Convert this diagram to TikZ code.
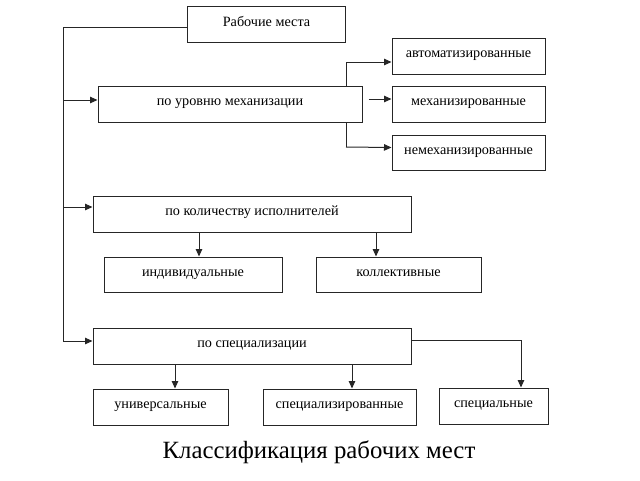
\documentclass[tikz,border=0pt]{standalone}
\usepackage{fontspec}
\setmainfont{Liberation Serif}
\usetikzlibrary{arrows.meta}
\tikzset{
  box/.style={draw=black!85, line width=1pt, rectangle, inner sep=0pt, text height=8pt, text depth=5pt, font=\fontsize{14.2}{16}\selectfont},
  conn/.style={draw=black!85, line width=1pt},
  arr/.style={conn, -{Triangle[length=7.5pt,width=6.5pt]}}
}
\begin{document}
\begin{tikzpicture}[x=1pt,y=-1pt]
\useasboundingbox (0,0) rectangle (640,480);
% vertical branch line behind the mechanisation box
\coordinate (mb1) at (346,62);
\coordinate (mb2) at (346,147);
\node[box, minimum width=158pt, minimum height=36pt] (top) at (266.5,24.5) {Рабочие места};
\draw[conn] (mb1) -- (mb2);
\node[box, fill=white, minimum width=264pt, minimum height=36pt] (mech) at (230,104) {по уровню механизации};
\node[box, minimum width=153pt, minimum height=36pt] (auto) at (468.5,56) {автоматизированные};
\node[box, minimum width=153pt, minimum height=36pt] (mechd) at (468.5,104) {механизированные};
\node[box, minimum width=153pt, minimum height=35pt] (nemech) at (468.5,152.5) {немеханизированные};
\node[box, minimum width=318pt, minimum height=36pt] (kol) at (252,214) {по количеству исполнителей};
\node[box, minimum width=178pt, minimum height=35pt] (ind) at (193,274.5) {индивидуальные};
\node[box, minimum width=165pt, minimum height=35pt] (koll) at (398.5,274.5) {коллективные};
\node[box, minimum width=318pt, minimum height=36pt] (spec) at (252,346) {по специализации};
\node[box, minimum width=135pt, minimum height=36pt] (univ) at (160.5,407) {универсальные};
\node[box, minimum width=153pt, minimum height=36pt] (spz) at (339.5,407) {специализированные};
\node[box, minimum width=109pt, minimum height=36pt] (spl) at (493.5,406) {специальные};
\node[font=\fontsize{24.8}{28}\selectfont] (cap) at (319,452) {Классификация рабочих мест};
% main bus
\coordinate (bus) at (63,27);
\draw[conn] ([yshift=-2.5pt]top.west) -- (bus);
\draw[arr] (bus) |- ([yshift=5pt]spec.west);
\draw[arr] (bus |- mech.west) ++(0,-4) -- ([yshift=4pt]mech.west);
\draw[arr] (bus |- kol.west) ++(0,-7) -- ([yshift=7pt]kol.west);
% mechanisation branches
\draw[arr] (mb1) -- ([yshift=-6pt]auto.west);
\draw[arr] ([xshift=6pt,yshift=5pt]mech.east) -- ([yshift=5pt]mechd.west);
\draw[arr] (mb2) -- ([yshift=5pt]nemech.west);
% performers
\draw[arr] ([xshift=-53pt]kol.south) -- ([xshift=-53pt]kol.south |- ind.north);
\draw[arr] ([xshift=124pt]kol.south) -- ([xshift=124pt]kol.south |- koll.north);
% specialisation
\draw[arr] ([xshift=-77pt]spec.south) -- ([xshift=-77pt]spec.south |- univ.north);
\draw[arr] ([xshift=100pt]spec.south) -- ([xshift=100pt]spec.south |- spz.north);
\draw[arr] ([yshift=6pt]spec.east) -| ([xshift=27.5pt]spl.north);
\end{tikzpicture}
\end{document}
